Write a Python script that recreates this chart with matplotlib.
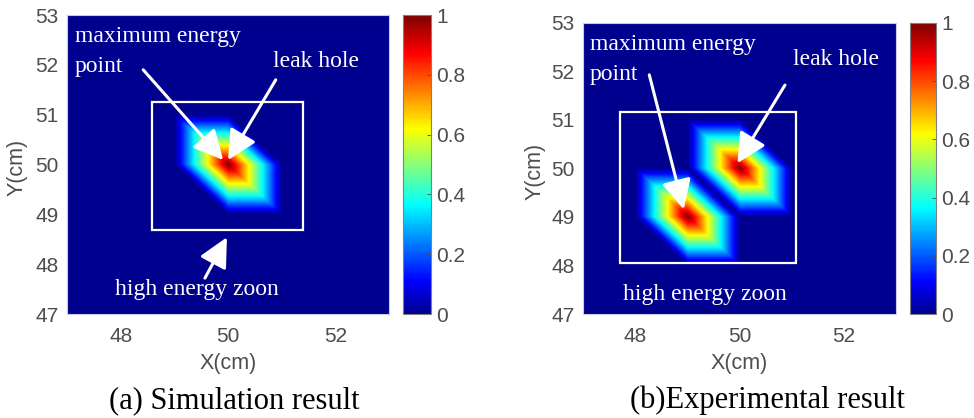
import numpy as np
import matplotlib
matplotlib.use('Agg')
import matplotlib.pyplot as plt
import matplotlib.tri as mtri
from matplotlib.colors import LinearSegmentedColormap
from matplotlib.patches import Rectangle

# nodos de la malla (cm) y energia normalizada en los picos
nodos = [47, 48, 49, 50, 51, 52, 53]
x_ticks = [48, 50, 52]
y_ticks = [47, 48, 49, 50, 51, 52, 53]
cbar_ticks = [0, 0.2, 0.4, 0.6, 0.8, 1]
cbar_labels = ['0', '0.2', '0.4', '0.6', '0.8', '1']

picos_a_x = [50]
picos_a_y = [50]
picos_a_val = [1.0]

picos_b_x = [49, 50]
picos_b_y = [49, 50]
picos_b_val = [1.0, 1.0]

captions = ['(a) Simulation result', '(b)Experimental result']

gris = '#4d4d4d'
sans = 'Liberation Sans'
serif = 'Liberation Serif'

# jet estilo MATLAB
jet = LinearSegmentedColormap.from_list('jet_matlab', [
    (0.0, (0, 0, 0.5625)),
    (0.111, (0, 0, 1)),
    (0.365, (0, 1, 1)),
    (0.619, (1, 1, 0)),
    (0.873, (1, 0, 0)),
    (1.0, (0.5, 0, 0)),
])


def campo(px, py, pv):
    # interpolacion lineal sobre triangulos con diagonal "\"
    X, Y = np.meshgrid(nodos, nodos)
    Z = np.zeros(X.shape)
    for x, y, v in zip(px, py, pv):
        Z[nodos.index(y), nodos.index(x)] = v
    n = len(nodos)
    tris = []
    for j in range(n - 1):
        for i in range(n - 1):
            a = j * n + i
            b = j * n + i + 1
            c = (j + 1) * n + i
            d = (j + 1) * n + i + 1
            tris.append([a, b, c])
            tris.append([b, d, c])
    tri = mtri.Triangulation(X.ravel(), Y.ravel(), tris)
    interp = mtri.LinearTriInterpolator(tri, Z.ravel())
    xf = np.linspace(nodos[0], nodos[-1], 601)
    XF, YF = np.meshgrid(xf, xf)
    return interp(XF, YF).filled(0)


def flecha(ax, cola, punta):
    ax.annotate('', xy=punta, xytext=cola,
                arrowprops=dict(arrowstyle='-|>,head_length=0.9,head_width=0.45',
                                color='white', lw=2.2, mutation_scale=20,
                                shrinkA=0, shrinkB=0))


def panel(ax, cax, z):
    im = ax.imshow(z, extent=[47, 53, 47, 53], origin='lower', cmap=jet,
                   vmin=0, vmax=1, aspect='auto', interpolation='bilinear')
    ax.set_xlim(47, 53)
    ax.set_ylim(47, 53)
    ax.set_xticks(x_ticks)
    ax.set_yticks(y_ticks)
    ax.tick_params(length=0, labelsize=15, labelcolor=gris)
    ax.tick_params(axis='x', pad=9)
    ax.tick_params(axis='y', pad=6)
    for lab in ax.get_xticklabels() + ax.get_yticklabels():
        lab.set_family(sans)
    ax.set_xlabel('X(cm)', fontsize=15.5, color=gris, family=sans)
    ax.set_ylabel('Y(cm)', fontsize=15.5, color=gris, family=sans)
    for s in ax.spines.values():
        s.set_color('#c8cce0')
        s.set_linewidth(0.8)

    cb = plt.colorbar(im, cax=cax)
    cb.set_ticks(cbar_ticks)
    cb.set_ticklabels(cbar_labels)
    cb.ax.tick_params(direction='in', length=3, width=0.6, color=gris,
                      labelsize=15, labelcolor=gris, pad=4)
    for lab in cb.ax.get_yticklabels():
        lab.set_family(sans)
    cb.outline.set_edgecolor('#808080')
    cb.outline.set_linewidth(0.8)


fig = plt.figure(figsize=(9.74, 4.18), dpi=100)

ax1 = fig.add_axes([0.0688, 0.2488, 0.3306, 0.7153])
cax1 = fig.add_axes([0.4138, 0.2488, 0.0287, 0.7153])
ax2 = fig.add_axes([0.5986, 0.2488, 0.3214, 0.6962])
cax2 = fig.add_axes([0.9343, 0.2488, 0.0267, 0.6962])

panel(ax1, cax1, campo(picos_a_x, picos_a_y, picos_a_val))
panel(ax2, cax2, campo(picos_b_x, picos_b_y, picos_b_val))

ax1.xaxis.set_label_coords(0.5, -0.13)
ax1.yaxis.set_label_coords(-0.121, 0.49)
ax2.xaxis.set_label_coords(0.5, -0.134)
ax2.yaxis.set_label_coords(-0.121, 0.49)

txt = dict(color='white', fontsize=17, family=serif)

# panel (a)
ax1.add_patch(Rectangle((48.58, 48.69), 2.82, 2.56, fill=False,
                        edgecolor='white', lw=1.6))
ax1.text(47.15, 52.46, 'maximum energy', **txt)
ax1.text(47.15, 51.86, 'point', **txt)
ax1.text(50.84, 51.96, 'leak hole', **txt)
ax1.text(47.89, 47.38, 'high energy zoon', **txt)
flecha(ax1, (48.42, 51.90), (49.91, 50.09))
flecha(ax1, (50.89, 51.70), (50.0, 50.09))
flecha(ax1, (49.57, 47.72), (49.98, 48.54))

# panel (b)
ax2.add_patch(Rectangle((47.70, 48.05), 3.38, 3.12, fill=False,
                        edgecolor='white', lw=1.6))
ax2.text(47.13, 52.44, 'maximum energy', **txt)
ax2.text(47.13, 51.83, 'point', **txt)
ax2.text(51.02, 52.13, 'leak hole', **txt)
ax2.text(47.76, 47.29, 'high energy zoon', **txt)
flecha(ax2, (48.27, 51.93), (48.93, 49.16))
flecha(ax2, (50.87, 51.72), (49.96, 50.11))

fig.text(0.241, 0.024, captions[0], fontsize=22, family=serif,
         ha='center', va='baseline')
fig.text(0.788, 0.024, captions[1], fontsize=22, family=serif,
         ha='center', va='baseline')

fig.savefig('out.png', dpi=100)
